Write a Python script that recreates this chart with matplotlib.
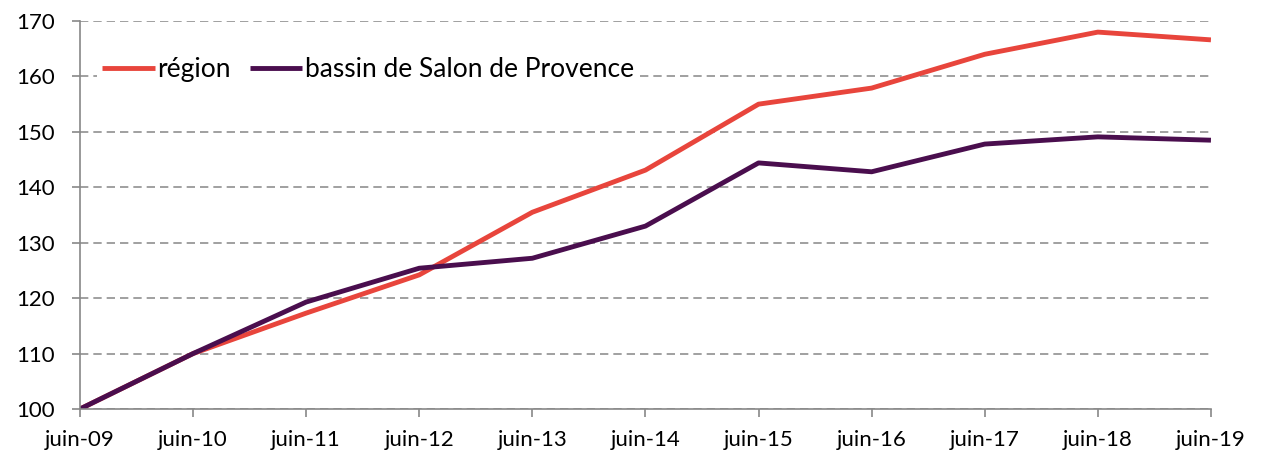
import matplotlib.pyplot as plt

plt.rcParams['font.family'] = ['Lato', 'DejaVu Sans']

# ---- data ----
labels = ["juin-09", "juin-10", "juin-11", "juin-12", "juin-13", "juin-14",
          "juin-15", "juin-16", "juin-17", "juin-18", "juin-19"]
region = [100, 110, 117.3, 124.2, 135.5, 143.1, 155.0, 157.9, 164.0, 168.0, 166.6]
bassin = [100, 110, 119.3, 125.4, 127.2, 133.0, 144.4, 142.8, 147.8, 149.1, 148.5]

x = list(range(len(labels)))

fig = plt.figure(figsize=(12.61, 4.54), dpi=100)
ax = fig.add_axes([0.0634, 0.0991, 0.8969, 0.8546])

ax.plot(x, region, color="#E8453C", lw=3.5, label="région", solid_capstyle="butt")
ax.plot(x, bassin, color="#4A0E4E", lw=3.5, label="bassin de Salon de Provence",
        solid_capstyle="butt")

ax.set_xlim(0, 10)
ax.set_ylim(100, 170)
ax.set_yticks(range(100, 171, 10))
ax.set_xticks(x)
ax.set_xticklabels(labels)

ax.yaxis.grid(True, color="#909090", linestyle=(0, (5, 3)), lw=1.2)
ax.set_axisbelow(True)

for s in ["top", "right"]:
    ax.spines[s].set_visible(False)
for s in ["left", "bottom"]:
    ax.spines[s].set_color("#888888")
    ax.spines[s].set_linewidth(1.2)

ax.tick_params(axis="both", colors="#888888", labelcolor="black", labelsize=16,
               length=6, width=1.2)
ax.tick_params(axis="x", pad=9)
ax.tick_params(axis="y", pad=12)

leg = ax.legend(loc="center left", bbox_to_anchor=(0.015, 0.874), ncol=2, frameon=True,
                fontsize=19, handlelength=2.0, handletextpad=0.1, columnspacing=0.7,
                borderaxespad=0.0, borderpad=0.2)
leg.get_frame().set_edgecolor("none")
leg.get_frame().set_facecolor("white")
leg.get_frame().set_alpha(1)

fig.savefig("out.png", dpi=100)
